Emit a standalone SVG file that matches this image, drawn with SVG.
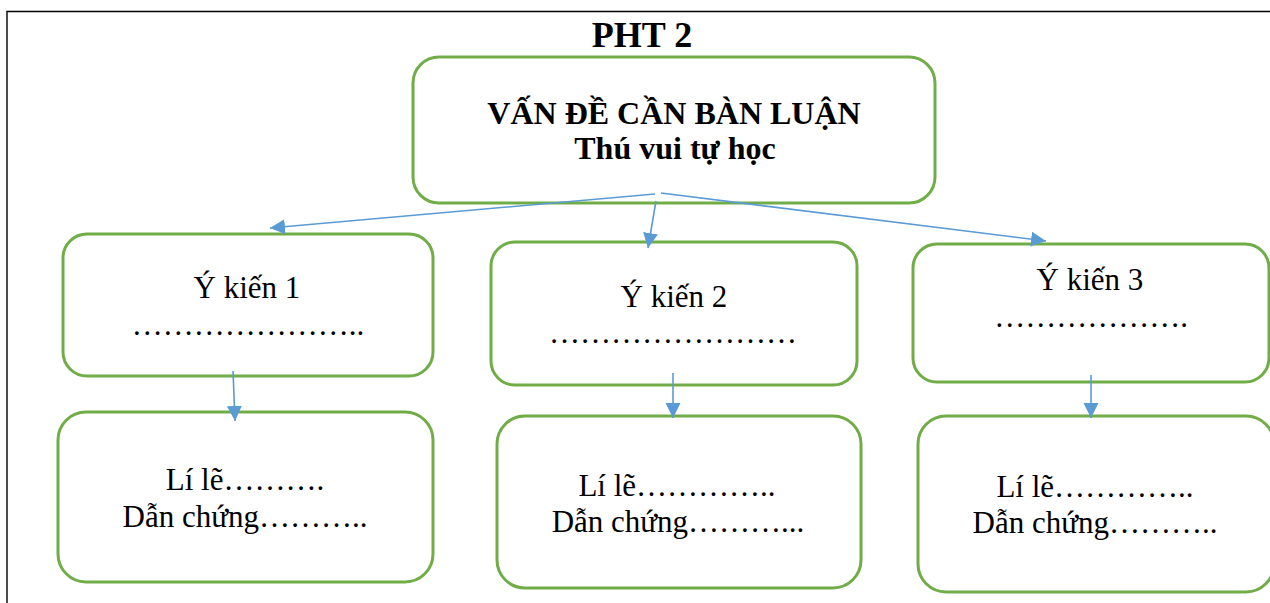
<svg xmlns="http://www.w3.org/2000/svg" width="1270" height="603" viewBox="0 0 1270 603">
<style>
.box{fill:#fff;stroke:#70AD47;stroke-width:3}
.t{font-family:"Liberation Serif","Times New Roman",serif;fill:#000;text-anchor:middle}
.b{font-weight:bold}
.r{font-size:31px}
.c{stroke:#5B9BD5;stroke-width:1.6;fill:none;marker-end:url(#ah)}
</style>
<defs>
<marker id="ah" markerUnits="userSpaceOnUse" markerWidth="16" markerHeight="16" refX="15" refY="7.5" orient="auto">
<path d="M0,0 L15,7.5 L0,15 Z" fill="#5B9BD5"/>
</marker>
</defs>
<rect width="1270" height="603" fill="#fff"/>
<path d="M7,603 L7,11.5 L1270,11.5" fill="none" stroke="#000" stroke-width="1.4"/>
<text class="t b" x="642" y="47" font-size="36">PHT 2</text>
<g id="issue">
<rect class="box" x="413" y="57" width="522" height="146" rx="26"/>
<text class="t b" x="674" y="124" font-size="32">VẤN ĐỀ CẦN BÀN LUẬN</text>
<text class="t b" x="675" y="159" font-size="32">Thú vui tự học</text>
</g>
<g id="opinion1">
<rect class="box" x="63" y="234" width="370" height="142" rx="24"/>
<text class="t r" x="247" y="298">Ý kiến 1</text>
<text class="t r" x="248" y="335">&#8230;&#8230;&#8230;&#8230;&#8230;&#8230;&#8230;..</text>
</g>
<g id="opinion2">
<rect class="box" x="491" y="242" width="366" height="143" rx="24"/>
<text class="t r" x="674" y="307">Ý kiến 2</text>
<text class="t r" x="673" y="343">&#8230;&#8230;&#8230;&#8230;&#8230;&#8230;&#8230;&#8230;</text>
</g>
<g id="opinion3">
<rect class="box" x="913" y="244" width="356" height="138" rx="24"/>
<text class="t r" x="1090" y="290">Ý kiến 3</text>
<text class="t r" x="1091" y="327">&#8230;&#8230;&#8230;&#8230;&#8230;&#8230;.</text>
</g>
<g id="reason1">
<rect class="box" x="58" y="412" width="375" height="170" rx="28"/>
<text class="t r" x="245" y="490">Lí lẽ&#8230;&#8230;&#8230;.</text>
<text class="t r" x="245" y="527">Dẫn chứng&#8230;&#8230;&#8230;..</text>
</g>
<g id="reason2">
<rect class="box" x="497" y="416" width="364" height="172" rx="28"/>
<text class="t r" x="677" y="496">Lí lẽ&#8230;&#8230;&#8230;&#8230;..</text>
<text class="t r" x="678" y="532">Dẫn chứng&#8230;&#8230;&#8230;...</text>
</g>
<g id="reason3">
<rect class="box" x="918" y="416" width="356" height="176" rx="28"/>
<text class="t r" x="1095" y="497">Lí lẽ&#8230;&#8230;&#8230;&#8230;..</text>
<text class="t r" x="1095" y="533">Dẫn chứng&#8230;&#8230;&#8230;..</text>
</g>
<g id="connectors">
<line class="c" x1="655" y1="194" x2="270" y2="228"/>
<line class="c" x1="656" y1="201" x2="648" y2="248"/>
<line class="c" x1="661" y1="193" x2="1046" y2="241"/>
<line class="c" x1="233" y1="371" x2="235" y2="421"/>
<line class="c" x1="673" y1="373" x2="673" y2="418"/>
<line class="c" x1="1091" y1="375" x2="1091" y2="418"/>
</g>
</svg>
